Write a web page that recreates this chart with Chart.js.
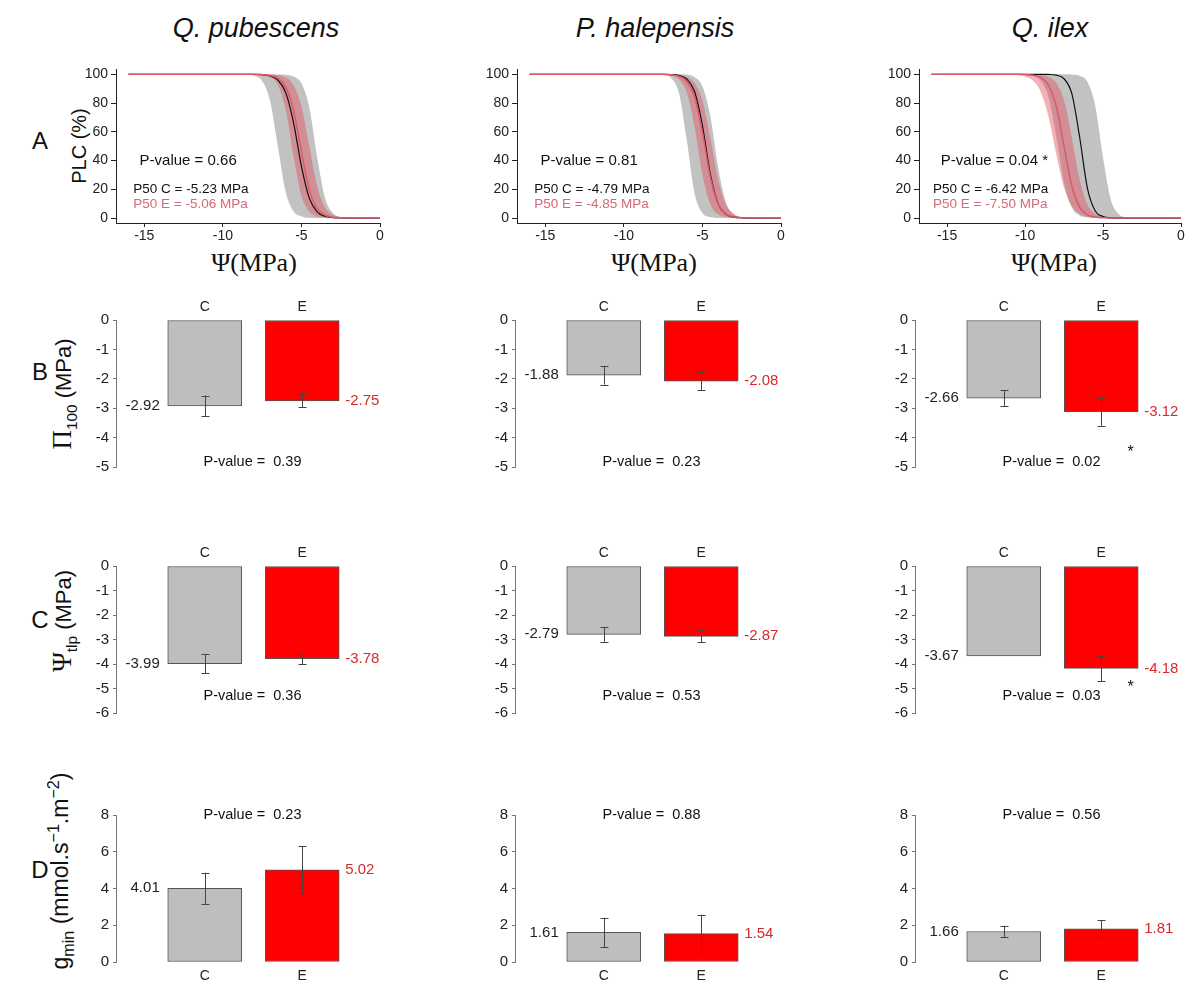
<!DOCTYPE html>
<html>
<head>
<meta charset="utf-8">
<script src="https://cdn.jsdelivr.net/npm/chart.js@4.4.1/dist/chart.umd.min.js"></script>
<style>
  body { margin: 0; width: 1192px; height: 987px; position: relative; overflow: hidden; background: #fff;
         font-family: Arial, 'Liberation Sans', sans-serif; color: #111; }
  canvas { position: absolute; }
  .t { position: absolute; white-space: nowrap; transform: translate(-50%, -50%); }
  .rot { transform: translate(-50%, -50%) rotate(-90deg); }
  .serif { font-family: 'Liberation Serif', 'DejaVu Serif', serif; }
  sub, sup { font-size: 70%; }
</style>
</head>
<body>
<div class="t" style="left:256px;top:28px;font-size:27px;font-style:italic">Q. pubescens</div>
<div class="t" style="left:655px;top:28px;font-size:27px;font-style:italic">P. halepensis</div>
<div class="t" style="left:1050px;top:28px;font-size:27px;font-style:italic">Q. ilex</div>

<div class="t" style="left:40px;top:141px;font-size:24px">A</div>
<div class="t" style="left:40px;top:372px;font-size:24px">B</div>
<div class="t" style="left:40px;top:620px;font-size:24px">C</div>
<div class="t" style="left:40px;top:870px;font-size:24px">D</div>

<div class="t rot" style="left:79px;top:146px;font-size:20px">PLC (%)</div>
<div class="t rot" style="left:64px;top:394px;font-size:22px"><span class="serif" style="font-size:27px">Π</span><sub>100</sub> (MPa)</div>
<div class="t rot" style="left:64px;top:621px;font-size:22px"><span class="serif" style="font-size:27px">Ψ</span><sub>tlp</sub> (MPa)</div>
<div class="t rot" style="left:61px;top:871px;font-size:23px">g<sub>min</sub> (mmol.s<sup>−1</sup>.m<sup>−2</sup>)</div>

<div class="t serif" style="left:254px;top:263px;font-size:26px">Ψ(MPa)</div>
<div class="t serif" style="left:654px;top:263px;font-size:26px">Ψ(MPa)</div>
<div class="t serif" style="left:1054px;top:263px;font-size:26px">Ψ(MPa)</div>

<canvas id="a1" width="324" height="195" style="left:66px;top:58px"></canvas>
<canvas id="a2" width="324" height="195" style="left:467px;top:58px"></canvas>
<canvas id="a3" width="322" height="195" style="left:869px;top:58px"></canvas>

<canvas id="b1" width="317" height="190" style="left:76px;top:290px"></canvas>
<canvas id="b2" width="317" height="190" style="left:475px;top:290px"></canvas>
<canvas id="b3" width="317" height="190" style="left:875px;top:290px"></canvas>

<canvas id="c1" width="317" height="190" style="left:76px;top:536px"></canvas>
<canvas id="c2" width="317" height="190" style="left:475px;top:536px"></canvas>
<canvas id="c3" width="317" height="190" style="left:875px;top:536px"></canvas>

<canvas id="d1" width="317" height="185" style="left:76px;top:802px"></canvas>
<canvas id="d2" width="317" height="185" style="left:475px;top:802px"></canvas>
<canvas id="d3" width="317" height="185" style="left:875px;top:802px"></canvas>

<script>
// water potential grid (MPa) for the vulnerability curves
const psi = [-16, -12, -11, -10.5, -10, -9.5, -9, -8.5, -8, -7.5, -7, -6.5, -6, -5.5, -5, -4.5, -4, -3.5, -3, -2.5, -2, -1, 0];

// Q. pubescens  (C = control, E = exclusion), mean + band edges
const pubC   = [100,100,100,100,100,100,100,100,100,99.7,98.8,96.0,87.3,66.3,36.0,13.9,4.4,1.3,0.4,0.1,0,0,0];
const pubCLo = [100,100,100,100,100,100,100,99.8,98.9,95.3,81.8,50,18.2,4.7,1.1,0.2,0,0,0,0,0,0,0];
const pubCHi = [100,100,100,100,100,100,100,100,100,100,100,99.9,99.7,98.5,93.7,76.9,42.6,14.2,3.6,0.8,0.2,0,0];
const pubE   = [100,100,100,100,100,100,100,100,100,99.8,99.2,97.3,91.3,75.0,46.3,19.8,6.6,2.0,0.6,0.2,0,0,0];
const pubELo = [100,100,100,100,100,100,100,100,99.9,99.5,98.1,92.6,75.4,43.0,15.7,4.4,1.1,0.3,0.1,0,0,0,0];
const pubEHi = [100,100,100,100,100,100,100,100,100,100,99.8,99.3,97.7,92.4,77.7,50,22.3,7.6,2.3,0.7,0.2,0,0];

// P. halepensis
const halC   = [100,100,100,100,100,100,100,100,100,100,99.8,99.2,96.7,88.0,64.3,30.8,9.9,2.6,0.7,0.2,0,0,0];
const halCLo = [100,100,100,100,100,100,100,100,99.9,99.6,97.5,87.3,54.4,17.2,3.5,0.6,0.1,0,0,0,0,0,0];
const halCHi = [100,100,100,100,100,100,100,100,100,100,100,100,99.6,98.0,91.7,71.1,35.4,10.9,2.7,0.6,0.1,0,0];
const halE   = [100,100,100,100,100,100,100,100,100,100,99.6,98.6,95.2,84.4,59.6,28.7,9.9,2.9,0.8,0.2,0,0,0];
const halELo = [100,100,100,100,100,100,100,100,100,99.8,99.1,96.6,87.6,63.7,30.1,9.6,2.6,0.7,0.2,0,0,0,0];
const halEHi = [100,100,100,100,100,100,100,100,100,100,99.8,99.5,98.2,94.0,81.8,56.2,26.9,9.5,2.9,0.9,0.2,0,0];

// Q. ilex
const ilexC   = [100,100,100,100,100,100,100,99.9,99.4,96.9,86.5,56.4,20.7,5.0,1.1,0.2,0,0,0,0,0,0,0];
const ilexCLo = [100,100,100,99.9,99.7,98.9,95.6,84.3,57.0,24.6,7.4,1.9,0.5,0.1,0,0,0,0,0,0,0,0,0];
const ilexCHi = [100,100,100,100,100,100,100,100,100,100,99.8,98.9,94.7,78.2,42.1,12.8,2.9,0.6,0.1,0,0,0,0];
const ilexE   = [100,100,100,100,99.8,99.3,97.7,92.4,77.7,50,22.3,7.6,2.3,0.7,0.2,0.1,0,0,0,0,0,0,0];
const ilexELo = [100,100,99.8,99.5,98.5,95.6,87.9,70.7,44.5,21.1,8.2,2.9,1.0,0.3,0.1,0,0,0,0,0,0,0,0];
const ilexEHi = [100,100,100,100,100,99.8,99.5,98.2,94.0,81.8,56.2,26.9,9.5,2.9,0.9,0.2,0.1,0,0,0,0,0,0];

const psiTicks = [-15, -10, -5, 0];
const plcTicks = [0, 20, 40, 60, 80, 100];

// bar panels
const groups = ['C', 'E'];
const pi100Pub  = [-2.92, -2.75], pi100PubErr  = [0.35, 0.22];
const pi100Hal  = [-1.88, -2.08], pi100HalErr  = [0.32, 0.30];
const pi100Ilex = [-2.66, -3.12], pi100IlexErr = [0.27, 0.48];
const tlpPub  = [-3.99, -3.78], tlpPubErr  = [0.38, 0.23];
const tlpHal  = [-2.79, -2.87], tlpHalErr  = [0.30, 0.25];
const tlpIlex = [-3.67, -4.18], tlpIlexErr = [0, 0.52];
const gminPub  = [4.01, 5.02], gminPubErr  = [0.85, 1.29];
const gminHal  = [1.61, 1.54], gminHalErr  = [0.80, 1.03];
const gminIlex = [1.66, 1.81], gminIlexErr = [0.31, 0.45];

const pi100Ticks = [0, -1, -2, -3, -4, -5];
const tlpTicks = [0, -1, -2, -3, -4, -5, -6];
const gminTicks = [0, 2, 4, 6, 8];

const FONT = "Arial, 'Liberation Sans', sans-serif";
Chart.defaults.font.family = FONT;
const PINK = '#d96878';
const RED_TXT = '#d42a2a';

// free text placed in data coordinates
const panelText = {
  id: 'panelText',
  afterDatasetsDraw(chart, args, opts) {
    const { ctx } = chart;
    const xs = chart.scales.x, ys = chart.scales.y;
    ctx.save();
    (opts.items || []).forEach(it => {
      ctx.font = (it.size || 14) + 'px ' + FONT;
      ctx.fillStyle = it.color || '#111';
      ctx.textAlign = it.align || 'left';
      ctx.textBaseline = 'middle';
      ctx.fillText(it.text, xs.getPixelForValue(it.x), ys.getPixelForValue(it.y));
    });
    ctx.restore();
  }
};

// error bars + value labels next to each bar
const barExtras = {
  id: 'barExtras',
  afterDatasetsDraw(chart, args, opts) {
    const { ctx } = chart;
    const ys = chart.scales.y;
    const meta = chart.getDatasetMeta(0);
    const vals = chart.data.datasets[0].data;
    ctx.save();
    meta.data.forEach((bar, i) => {
      const v = vals[i].y, e = opts.err[i];
      const bx = Math.round(bar.x) + 0.5;
      if (e > 0) {
        const y1 = ys.getPixelForValue(v - e), y2 = ys.getPixelForValue(v + e);
        ctx.strokeStyle = '#444';
        ctx.lineWidth = 1;
        ctx.beginPath();
        ctx.moveTo(bx, y1); ctx.lineTo(bx, y2);
        ctx.moveTo(bx - 4, Math.round(y1) + 0.5); ctx.lineTo(bx + 4, Math.round(y1) + 0.5);
        ctx.moveTo(bx - 4, Math.round(y2) + 0.5); ctx.lineTo(bx + 4, Math.round(y2) + 0.5);
        ctx.stroke();
      }
      ctx.font = '15px ' + FONT;
      ctx.textBaseline = 'middle';
      const yl = ys.getPixelForValue(v);
      if (i === 0) {
        ctx.textAlign = 'right';
        ctx.fillStyle = '#222';
        ctx.fillText(v.toFixed(2), bar.x - bar.width / 2 - 8, yl);
      } else {
        ctx.textAlign = 'left';
        ctx.fillStyle = RED_TXT;
        ctx.fillText(v.toFixed(2), bar.x + bar.width / 2 + 6, yl);
      }
    });
    ctx.restore();
  }
};

function plcChart(id, C, CLo, CHi, E, ELo, EHi, notes) {
  const pts = arr => psi.map((x, i) => ({ x, y: arr[i] }));
  const band = (arr, fill, color) => ({
    data: pts(arr), borderWidth: 0, borderColor: 'transparent', pointRadius: 0,
    fill, backgroundColor: color, cubicInterpolationMode: 'monotone'
  });
  new Chart(document.getElementById(id), {
    type: 'line',
    data: {
      datasets: [
        { data: pts(E), borderColor: '#dc5a6c', borderWidth: 1.5, pointRadius: 0, fill: false, cubicInterpolationMode: 'monotone' },
        { data: pts(C), borderColor: '#111', borderWidth: 1.2, pointRadius: 0, fill: false, cubicInterpolationMode: 'monotone' },
        band(EHi, '+1', 'rgba(228,80,95,0.45)'),
        band(ELo, false, 'transparent'),
        band(CHi, '+1', '#c2c2c2'),
        band(CLo, false, 'transparent')
      ]
    },
    options: {
      responsive: false,
      animation: false,
      layout: { padding: { top: 10, right: 10, left: 0, bottom: 0 } },
      plugins: { legend: { display: false }, tooltip: { enabled: false }, panelText: { items: notes } },
      scales: {
        x: {
          type: 'linear', min: -16.8, max: 0,
          afterBuildTicks: s => { s.ticks = psiTicks.map(v => ({ value: v })); },
          afterFit: s => { s.height = 30; },
          grid: { drawOnChartArea: false, tickLength: 4, color: '#222' },
          border: { color: '#222' },
          ticks: { font: { size: 14 }, color: '#222', padding: 1 }
        },
        y: {
          min: -3.4, max: 103.4,
          afterBuildTicks: s => { s.ticks = plcTicks.map(v => ({ value: v })); },
          afterFit: s => { s.width = 50; },
          grid: { drawOnChartArea: false, tickLength: 5, color: '#222' },
          border: { color: '#222' },
          ticks: { font: { size: 14 }, color: '#222', padding: 3 }
        }
      }
    },
    plugins: [panelText]
  });
}

function barChart(id, vals, errs, yMin, yMax, yTicks, xPos, notes) {
  const top = xPos === 'top';
  new Chart(document.getElementById(id), {
    type: 'bar',
    data: {
      datasets: [{
        data: vals.map((v, i) => ({ x: i + 1, y: v })),
        backgroundColor: ['#bebebe', '#ff0000'],
        borderColor: '#555',
        borderWidth: 1,
        borderSkipped: false,
        barThickness: 74
      }]
    },
    options: {
      responsive: false,
      animation: false,
      layout: { padding: top ? { top: 10, bottom: 10, left: 0, right: 4 } : { top: 10, bottom: 5, left: 0, right: 4 } },
      plugins: {
        legend: { display: false }, tooltip: { enabled: false },
        barExtras: { err: errs },
        panelText: { items: notes }
      },
      scales: {
        x: {
          type: 'linear', position: xPos, min: 0.09, max: 2.89, offset: false,
          afterBuildTicks: s => { s.ticks = groups.map((g, i) => ({ value: i + 1 })); },
          afterFit: s => { s.height = 20; },
          grid: { display: false, drawTicks: false },
          border: { display: false },
          ticks: { font: { size: 14 }, color: '#222', padding: top ? 4 : 6, callback: v => groups[v - 1] }
        },
        y: {
          min: yMin, max: yMax,
          afterBuildTicks: s => { s.ticks = yTicks.map(v => ({ value: v })); },
          afterFit: s => { s.width = 40; },
          grid: { drawOnChartArea: false, tickLength: 3, color: '#777' },
          border: { color: '#777' },
          ticks: { font: { size: 15 }, color: '#222', padding: 4 }
        }
      }
    },
    plugins: [barExtras, panelText]
  });
}

const pv = (text, y) => ({ text: 'P-value =  ' + text, x: 1.49, y, align: 'center', size: 14.5 });
const star = y => ({ text: '*', x: 2.27, y, size: 16 });

plcChart('a1', pubC, pubCLo, pubCHi, pubE, pubELo, pubEHi, [
  { text: 'P-value = 0.66', x: -15.3, y: 40, size: 15 },
  { text: 'P50 C = -5.23 MPa', x: -15.7, y: 20, size: 13.5 },
  { text: 'P50 E = -5.06 MPa', x: -15.7, y: 9.5, size: 13.5, color: PINK }
]);
plcChart('a2', halC, halCLo, halCHi, halE, halELo, halEHi, [
  { text: 'P-value = 0.81', x: -15.3, y: 40, size: 15 },
  { text: 'P50 C = -4.79 MPa', x: -15.7, y: 20, size: 13.5 },
  { text: 'P50 E = -4.85 MPa', x: -15.7, y: 9.5, size: 13.5, color: PINK }
]);
plcChart('a3', ilexC, ilexCLo, ilexCHi, ilexE, ilexELo, ilexEHi, [
  { text: 'P-value = 0.04 *', x: -15.4, y: 40, size: 15 },
  { text: 'P50 C = -6.42 MPa', x: -15.9, y: 20, size: 13.5 },
  { text: 'P50 E = -7.50 MPa', x: -15.9, y: 9.5, size: 13.5, color: PINK }
]);

barChart('b1', pi100Pub, pi100PubErr, -5, 0, pi100Ticks, 'top', [pv('0.39', -4.83)]);
barChart('b2', pi100Hal, pi100HalErr, -5, 0, pi100Ticks, 'top', [pv('0.23', -4.83)]);
barChart('b3', pi100Ilex, pi100IlexErr, -5, 0, pi100Ticks, 'top', [pv('0.02', -4.83), star(-4.5)]);

barChart('c1', tlpPub, tlpPubErr, -6, 0, tlpTicks, 'top', [pv('0.36', -5.3)]);
barChart('c2', tlpHal, tlpHalErr, -6, 0, tlpTicks, 'top', [pv('0.53', -5.3)]);
barChart('c3', tlpIlex, tlpIlexErr, -6, 0, tlpTicks, 'top', [pv('0.03', -5.3), star(-4.95)]);

barChart('d1', gminPub, gminPubErr, 0, 8, gminTicks, 'bottom', [pv('0.23', 8)]);
barChart('d2', gminHal, gminHalErr, 0, 8, gminTicks, 'bottom', [pv('0.88', 8)]);
barChart('d3', gminIlex, gminIlexErr, 0, 8, gminTicks, 'bottom', [pv('0.56', 8)]);
</script>
</body>
</html>
